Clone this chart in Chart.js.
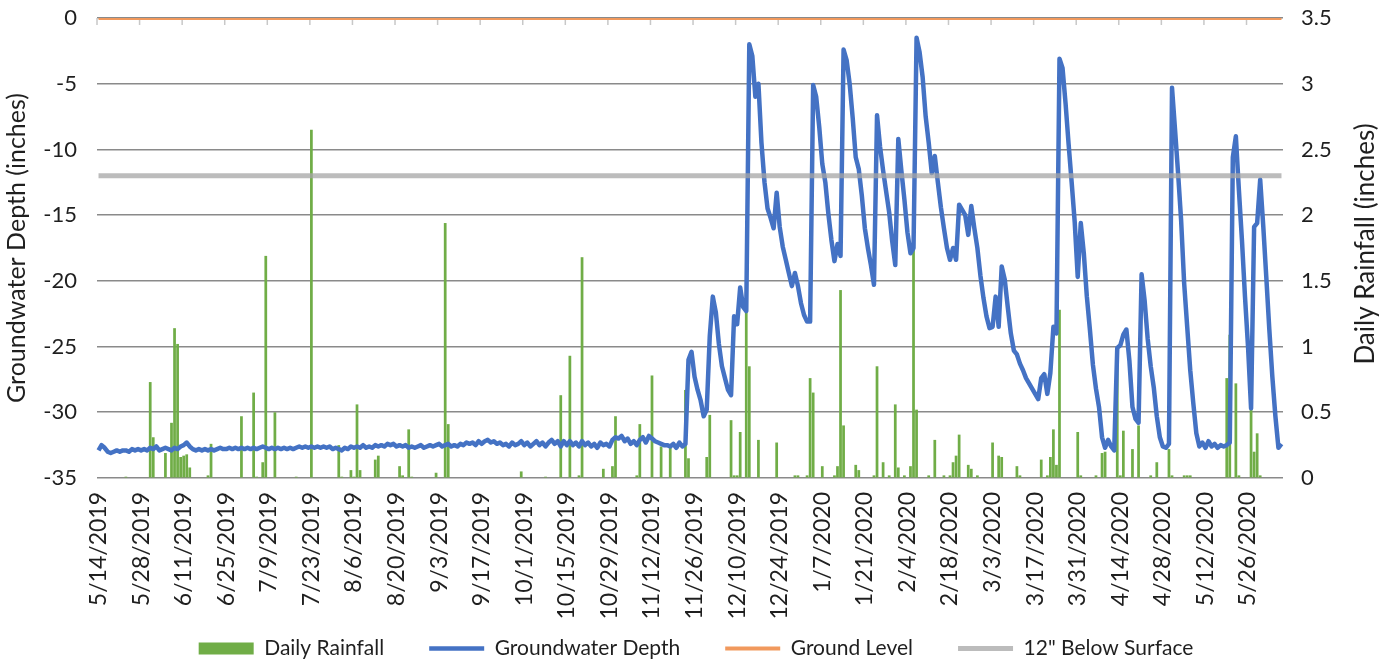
<!DOCTYPE html>
<html>
<head>
<meta charset="utf-8">
<title>Groundwater Depth and Daily Rainfall</title>
<script src="https://cdn.jsdelivr.net/npm/chart.js@4.4.1/dist/chart.umd.min.js"></script>
<style>
  html, body { margin: 0; padding: 0; background: #fff; }
</style>
</head>
<body>
<canvas id="myChart" width="1392" height="666"></canvas>
<script>
// daily readings, 5/14/2019 onwards (one row = two weeks)
var groundwater = [
  -32.9, -32.5, -32.7, -33.0, -33.1, -33.0, -32.9, -33.0, -32.9, -32.9, -33.0, -32.8, -32.9, -32.8,
  -32.9, -32.8, -32.9, -32.7, -32.8, -32.6, -32.9, -32.8, -32.7, -32.8, -32.9, -32.7, -32.8, -32.6,
  -32.5, -32.3, -32.6, -32.8, -32.9, -32.8, -32.9, -32.8, -32.9, -32.8, -32.9, -32.8, -32.7, -32.8,
  -32.8, -32.7, -32.8, -32.7, -32.8, -32.7, -32.8, -32.7, -32.8, -32.7, -32.8, -32.7, -32.6, -32.7,
  -32.8, -32.7, -32.8, -32.7, -32.8, -32.7, -32.8, -32.7, -32.8, -32.7, -32.6, -32.7, -32.6, -32.7,
  -32.6, -32.7, -32.6, -32.7, -32.6, -32.7, -32.6, -32.8, -32.7, -32.8, -32.9, -32.7, -32.8, -32.6,
  -32.7, -32.6, -32.7, -32.5, -32.7, -32.6, -32.7, -32.5, -32.6, -32.5, -32.6, -32.4, -32.5, -32.4,
  -32.6, -32.5, -32.6, -32.5, -32.7, -32.6, -32.7, -32.6, -32.5, -32.7, -32.6, -32.5, -32.6, -32.5,
  -32.4, -32.6, -32.5, -32.4, -32.6, -32.5, -32.6, -32.4, -32.5, -32.3, -32.4, -32.3, -32.5, -32.2,
  -32.4, -32.2, -32.1, -32.3, -32.2, -32.4, -32.3, -32.5, -32.4, -32.6, -32.3, -32.5, -32.4, -32.2,
  -32.5, -32.3, -32.6, -32.4, -32.2, -32.5, -32.3, -32.6, -32.3, -32.1, -32.4, -32.2, -32.6, -32.2,
  -32.5, -32.2, -32.5, -32.3, -32.6, -32.2, -32.5, -32.3, -32.6, -32.4, -32.7, -32.3, -32.5, -32.4,
  -32.6, -32.1, -31.9, -32.0, -31.8, -32.2, -32.0, -32.4, -32.2, -32.5, -32.1, -31.9, -32.3, -31.8,
  -32.0, -32.2, -32.3, -32.4, -32.5, -32.5, -32.6, -32.4, -32.7, -32.3, -32.6, -32.4, -26.0, -25.4,
  -27.3, -28.3, -29.1, -30.3, -29.8, -24.2, -21.2, -22.4, -24.8, -26.5, -27.4, -28.3, -28.7, -22.7,
  -23.3, -20.5, -22.0, -22.3, -2.0, -2.9, -6.0, -5.0, -9.5, -12.5, -14.5, -15.2, -16.0, -13.3,
  -15.9, -17.4, -18.4, -19.4, -20.4, -19.4, -20.4, -21.7, -22.6, -23.1, -23.1, -5.1, -6.0, -8.3,
  -11.1, -12.5, -14.9, -16.9, -18.5, -17.2, -18.1, -2.4, -3.2, -5.0, -7.6, -10.6, -11.5, -13.5,
  -16.0, -17.5, -18.8, -20.3, -7.4, -9.8, -11.6, -13.2, -14.8, -17.0, -18.8, -9.2, -11.6, -13.8,
  -16.3, -17.9, -17.5, -1.5, -2.6, -4.5, -7.5, -9.5, -11.8, -10.5, -12.5, -14.4, -16.0, -17.5,
  -18.4, -17.5, -18.4, -14.2, -14.6, -15.0, -16.5, -14.3, -16.0, -17.5, -19.6, -21.3, -22.7, -23.6,
  -23.5, -21.2, -23.5, -18.9, -19.9, -22.0, -24.0, -25.3, -25.6, -26.3, -26.8, -27.4, -27.8, -28.2,
  -28.6, -29.0, -27.4, -27.1, -28.6, -27.0, -23.5, -24.0, -3.1, -3.8, -6.5, -9.6, -12.5, -15.5,
  -19.7, -15.6, -17.9, -21.2, -23.7, -26.4, -28.2, -29.6, -31.9, -32.7, -32.1, -32.6, -32.9, -25.1,
  -24.9, -24.1, -23.7, -26.1, -29.6, -30.5, -30.8, -19.5, -21.5, -24.4, -26.5, -28.1, -30.3, -31.9,
  -32.6, -32.7, -32.4, -5.3, -8.5, -11.8, -15.4, -20.2, -23.5, -26.8, -29.3, -31.6, -32.6, -32.3,
  -32.7, -32.2, -32.6, -32.4, -32.7, -32.5, -32.6, -32.5, -32.3, -10.6, -9.0, -13.1, -16.9, -21.2,
  -25.0, -29.7, -15.9, -15.6, -12.3, -15.8, -19.7, -23.7, -27.3, -30.3, -32.7, -32.4
];

var rainfall = [
  0, 0, 0, 0, 0, 0, 0, 0, 0, 0.01, 0, 0, 0, 0,
  0, 0, 0, 0.73, 0.31, 0, 0, 0, 0.19, 0, 0.42, 1.14, 1.02, 0.16,
  0.17, 0.18, 0.08, 0, 0, 0, 0, 0, 0.02, 0.26, 0, 0, 0, 0,
  0, 0, 0, 0, 0, 0.47, 0, 0, 0, 0.65, 0.01, 0, 0.12, 1.69,
  0, 0, 0.50, 0, 0, 0, 0, 0, 0, 0.01, 0, 0, 0, 0,
  2.65, 0, 0, 0, 0, 0, 0, 0, 0, 0.25, 0.01, 0, 0, 0.06,
  0.01, 0.56, 0.06, 0, 0, 0, 0, 0.14, 0.17, 0, 0, 0, 0, 0,
  0, 0.09, 0.02, 0, 0.37, 0.01, 0, 0, 0, 0, 0, 0, 0, 0.04,
  0, 0, 1.94, 0.41, 0, 0, 0, 0, 0, 0, 0, 0, 0, 0,
  0, 0, 0, 0, 0, 0, 0, 0, 0, 0, 0, 0, 0, 0.05,
  0, 0, 0, 0, 0, 0, 0, 0.01, 0, 0, 0, 0, 0.63, 0,
  0, 0.93, 0, 0, 0.02, 1.68, 0, 0, 0, 0, 0, 0, 0.07, 0,
  0, 0.09, 0.47, 0, 0, 0, 0, 0, 0, 0.02, 0.41, 0, 0, 0,
  0.78, 0, 0, 0.24, 0, 0, 0.24, 0, 0, 0, 0, 0.67, 0.15, 0,
  0, 0, 0, 0, 0.16, 0.48, 0, 0, 0, 0, 0, 0, 0.44, 0.02,
  0.02, 0.35, 0, 1.28, 0.85, 0, 0, 0.29, 0, 0, 0, 0, 0, 0.27,
  0, 0, 0, 0, 0, 0.02, 0.02, 0, 0, 0.02, 0.76, 0.65, 0, 0,
  0.09, 0, 0, 0, 0.02, 0.09, 1.43, 0.40, 0, 0, 0, 0.10, 0.06, 0,
  0, 0, 0, 0.02, 0.85, 0, 0.12, 0, 0.02, 0, 0.56, 0.08, 0, 0.02,
  0, 0.09, 1.74, 0.52, 0, 0, 0, 0.02, 0, 0.29, 0, 0, 0.02, 0,
  0.02, 0.12, 0.17, 0.33, 0, 0, 0.10, 0.07, 0, 0.02, 0, 0, 0, 0,
  0.27, 0, 0.17, 0.16, 0, 0, 0, 0, 0.09, 0.02, 0, 0, 0, 0,
  0, 0, 0.14, 0, 0.02, 0.16, 0.37, 0.10, 1.28, 0, 0, 0, 0, 0,
  0.35, 0.02, 0, 0, 0, 0, 0.02, 0, 0.19, 0.20, 0, 0, 0, 0.92,
  0.02, 0.36, 0, 0, 0.22, 0, 0.40, 0, 0, 0, 0.02, 0, 0.12, 0,
  0, 0, 0.22, 0.02, 0, 0, 0, 0.02, 0.02, 0.02, 0, 0, 0, 0,
  0, 0, 0, 0, 0, 0, 0, 0.76, 1.09, 0, 0.72, 0.02, 0, 0,
  0, 0.52, 0.20, 0.34, 0.02, 0, 0, 0, 0, 0, 0, 0
];

var groundLevel = 0;     // inches
var belowSurface = -12;  // 12" below surface
var labelEvery = 14;     // a date label every two weeks

// one category per day starting 5/14/2019
var startDay = Date.UTC(2019, 4, 14);
var days = [];
for (var i = 0; i < groundwater.length; i++) {
  var d = new Date(startDay + i * 86400000);
  days.push((d.getUTCMonth() + 1) + '/' + d.getUTCDate() + '/' + d.getUTCFullYear());
}

var textColor = '#1f1f1f';
var fontFamily = 'Lato, "Open Sans", sans-serif';
Chart.defaults.font.family = fontFamily;
Chart.defaults.color = textColor;

// small tick marks hanging from the top edge, one per label
const topTicks = {
  id: 'topTicks',
  beforeDatasetsDraw(chart) {
    const ctx = chart.ctx, x = chart.scales.x, area = chart.chartArea;
    const half = (x.getPixelForValue(1) - x.getPixelForValue(0)) / 2;
    ctx.save();
    ctx.strokeStyle = '#c8c8c8';
    ctx.lineWidth = 1.5;
    ctx.beginPath();
    for (let i = 0; i <= days.length; i += labelEvery) {
      const px = x.getPixelForValue(i) - half;
      if (px > area.right + 1) break;
      ctx.moveTo(px, area.top);
      ctx.lineTo(px, area.top + 7);
    }
    ctx.stroke();
    ctx.restore();
  }
};

// secondary axis title, written bottom-to-top like the left one
const rightTitle = {
  id: 'rightTitle',
  afterDraw(chart) {
    const ctx = chart.ctx, s = chart.scales.y1, area = chart.chartArea;
    ctx.save();
    ctx.translate(s.right - 26, (area.top + area.bottom) / 2 - 4);
    ctx.rotate(-Math.PI / 2);
    ctx.font = '26px ' + fontFamily;
    ctx.fillStyle = textColor;
    ctx.textAlign = 'center';
    ctx.textBaseline = 'middle';
    ctx.fillText('Daily Rainfall (inches)', 0, 0);
    ctx.restore();
  }
};

// keep the legend row low while its items stay widely spaced
const legendHeight = {
  id: 'legendHeight',
  beforeInit(chart) {
    const fit = chart.legend.fit;
    chart.legend.fit = function () {
      fit.call(this);
      this.height = 73;
    };
  }
};

// vertical axes: label padding is horizontal only, don't let it push the plot down
function fixVertical(width) {
  return function (s) {
    s.width = width;
    s.paddingTop = 0;
    s.paddingBottom = 0;
  };
}

const ctx = document.getElementById('myChart');
new Chart(ctx, {
  data: {
    labels: days,
    datasets: [
      {
        type: 'bar',
        label: 'Daily Rainfall',
        data: rainfall,
        yAxisID: 'y1',
        backgroundColor: '#70AD47',
        borderWidth: 0,
        barPercentage: 0.9,
        categoryPercentage: 1,
        order: 4
      },
      {
        type: 'line',
        label: 'Groundwater Depth',
        data: groundwater,
        yAxisID: 'y',
        borderColor: '#4472C4',
        backgroundColor: '#4472C4',
        borderWidth: 4.5,
        borderJoinStyle: 'round',
        pointRadius: 0,
        tension: 0,
        order: 3
      },
      {
        type: 'line',
        label: 'Ground Level',
        data: [{ x: days[0], y: groundLevel }, { x: days[days.length - 1], y: groundLevel }],
        yAxisID: 'y',
        borderColor: '#F1995D',
        backgroundColor: '#F1995D',
        borderWidth: 4,
        pointRadius: 0,
        order: 2
      },
      {
        type: 'line',
        label: '12" Below Surface',
        data: [{ x: days[0], y: belowSurface }, { x: days[days.length - 1], y: belowSurface }],
        yAxisID: 'y',
        borderColor: 'rgba(165,165,165,0.75)',
        backgroundColor: 'rgba(165,165,165,0.75)',
        borderWidth: 5,
        pointRadius: 0,
        order: 1
      }
    ]
  },
  options: {
    responsive: false,
    animation: false,
    layout: { padding: { top: 18, left: 0, right: 0, bottom: 0 } },
    plugins: {
      tooltip: { enabled: false },
      legend: {
        position: 'bottom',
        labels: {
          usePointStyle: true,
          pointStyleWidth: 55,
          boxHeight: 12,
          padding: 45,
          color: textColor,
          font: { size: 21 },
          sort: (a, b) => a.datasetIndex - b.datasetIndex,
          generateLabels(chart) {
            const items = Chart.defaults.plugins.legend.labels.generateLabels(chart);
            items.forEach(it => {
              it.pointStyle = chart.data.datasets[it.datasetIndex].type === 'bar' ? 'rect' : 'line';
            });
            return items;
          }
        }
      }
    },
    scales: {
      x: {
        type: 'category',
        offset: true,
        grid: { display: false },
        border: { display: false },
        ticks: {
          autoSkip: false,
          minRotation: 90,
          maxRotation: 90,
          padding: 6,
          font: { size: 23 },
          callback: function (v, i) {
            return i % labelEvery === 0 ? this.getLabelForValue(v) : '';
          }
        },
        afterFit(s) {
          s.height = 115;
          // date labels run a little past the axis box, let them show in full
          s._computeLabelArea = function () { return undefined; };
        }
      },
      y: {
        position: 'left',
        min: -35,
        max: 0,
        ticks: { stepSize: 5, padding: 20, font: { size: 22 } },
        grid: { color: '#8a8a8a', lineWidth: 1.6, drawTicks: false },
        border: { display: false },
        title: {
          display: true,
          text: 'Groundwater Depth (inches)',
          font: { size: 25 },
          padding: { top: 2, bottom: 0 }
        },
        afterFit: fixVertical(97)
      },
      y1: {
        position: 'right',
        min: 0,
        max: 3.5,
        ticks: {
          stepSize: 0.5,
          padding: 18,
          font: { size: 22 },
          callback: v => String(v)
        },
        grid: { drawOnChartArea: false, drawTicks: false },
        border: { display: false },
        afterFit: fixVertical(109)
      }
    }
  },
  plugins: [topTicks, rightTitle, legendHeight]
});
</script>
</body>
</html>
